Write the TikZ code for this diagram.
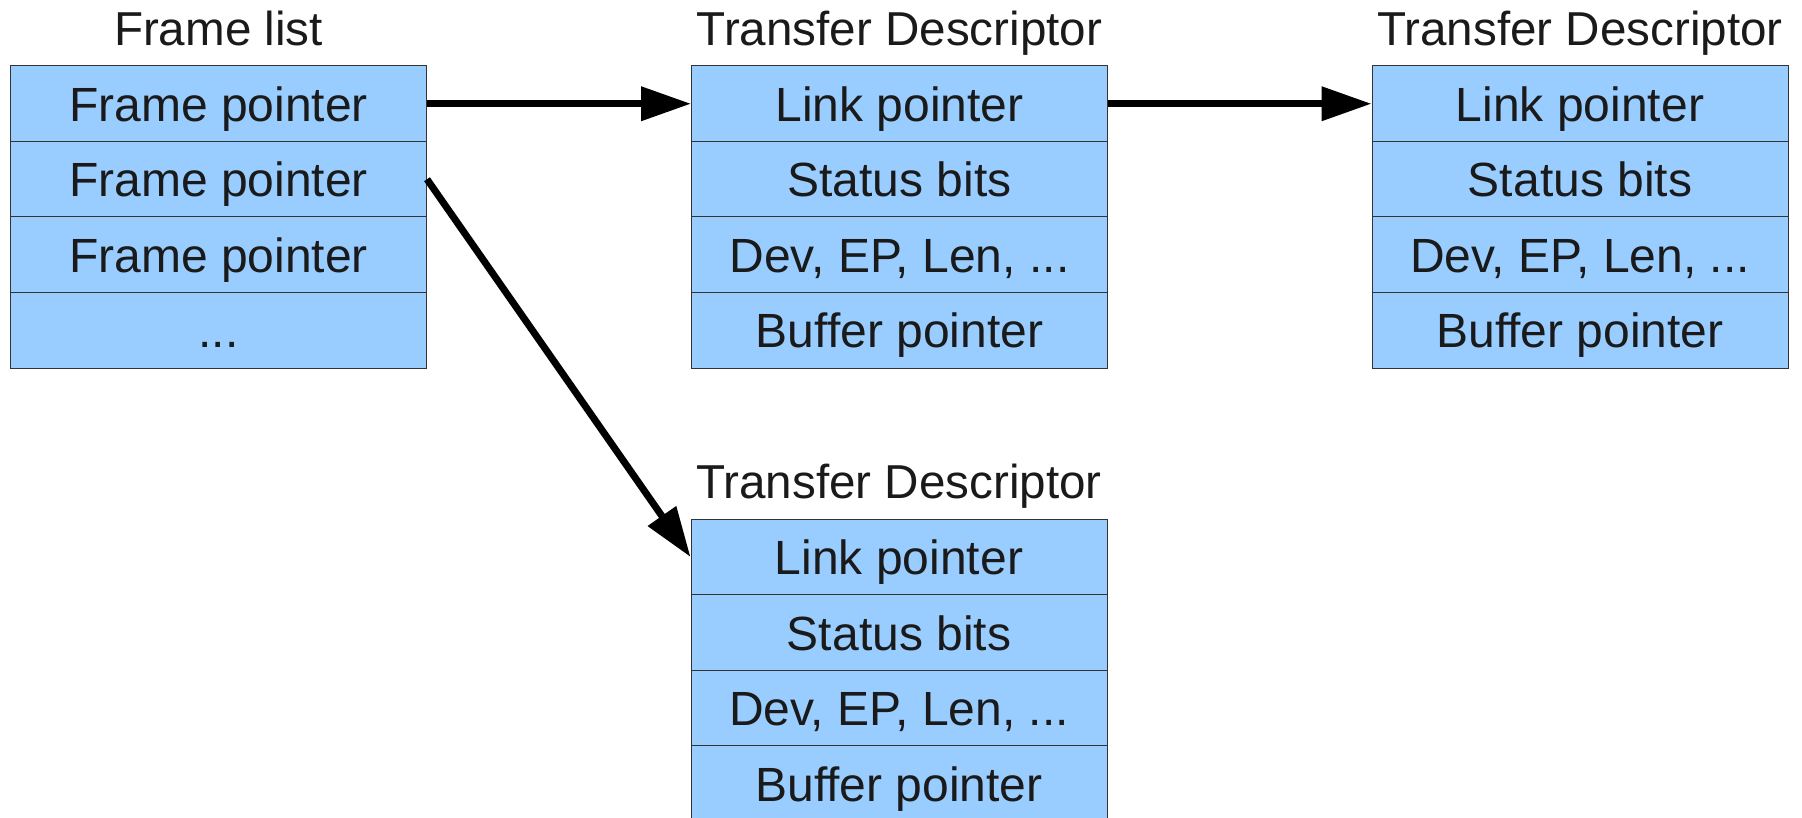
\documentclass[tikz,border=0pt]{standalone}
\usepackage{fontspec}
\setmainfont{Liberation Sans}
\usetikzlibrary{arrows.meta}
\definecolor{cellfill}{HTML}{99CCFF}
\definecolor{cellline}{HTML}{333333}
\definecolor{txt}{HTML}{1A1A1A}
\begin{document}
\begin{tikzpicture}[x=0.5pt,y=-0.5pt,
  cell/.style={draw=cellline, fill=cellfill, line width=0.5pt, minimum width=208pt,
    minimum height=37.75pt, inner sep=0pt, text height=19.3pt, text depth=1.8pt,
    font=\fontsize{24pt}{28pt}\selectfont, text=txt},
  ttl/.style={anchor=base, inner sep=0pt, font=\fontsize{23.8pt}{28pt}\selectfont, text=txt},
  ptr/.style={line width=3.5pt, -{Triangle[length=25pt,width=16.5pt]}}]
\useasboundingbox (0,0) rectangle (1802,818);

% Frame list
\node[ttl] (flt) at (218.5,46) {Frame list};
\node[cell] (fl1) at (218.5,103.75) {Frame pointer};
\node[cell] (fl2) at (218.5,179.25) {Frame pointer};
\node[cell] (fl3) at (218.5,254.75) {Frame pointer};
\node[cell] (fl4) at (218.5,330.25) {...};

% Transfer descriptor (middle top)
\node[ttl] (at) at (899.5,46) {Transfer Descriptor};
\node[cell] (a1) at (899.5,103.75) {Link pointer};
\node[cell] (a2) at (899.5,179.25) {Status bits};
\node[cell] (a3) at (899.5,254.75) {Dev, EP, Len, ...};
\node[cell] (a4) at (899.5,330.25) {Buffer pointer};

% Transfer descriptor (right top)
\node[ttl] (bt) at (1580,46) {Transfer Descriptor};
\node[cell] (b1) at (1580,103.75) {Link pointer};
\node[cell] (b2) at (1580,179.25) {Status bits};
\node[cell] (b3) at (1580,254.75) {Dev, EP, Len, ...};
\node[cell] (b4) at (1580,330.25) {Buffer pointer};

% Transfer descriptor (bottom)
\node[ttl] (ct) at (899,498.5) {Transfer Descriptor};
\node[cell] (c1) at (899,557) {Link pointer};
\node[cell] (c2) at (899,632.5) {Status bits};
\node[cell] (c3) at (899,708) {Dev, EP, Len, ...};
\node[cell] (c4) at (899,783.5) {Buffer pointer};

% Pointers
\draw[ptr] (fl1.east) -- (a1.west);
\draw[ptr] (a1.east) -- (b1.west);
\draw[ptr] (fl2.east) -- (c1.west);
\end{tikzpicture}
\end{document}
